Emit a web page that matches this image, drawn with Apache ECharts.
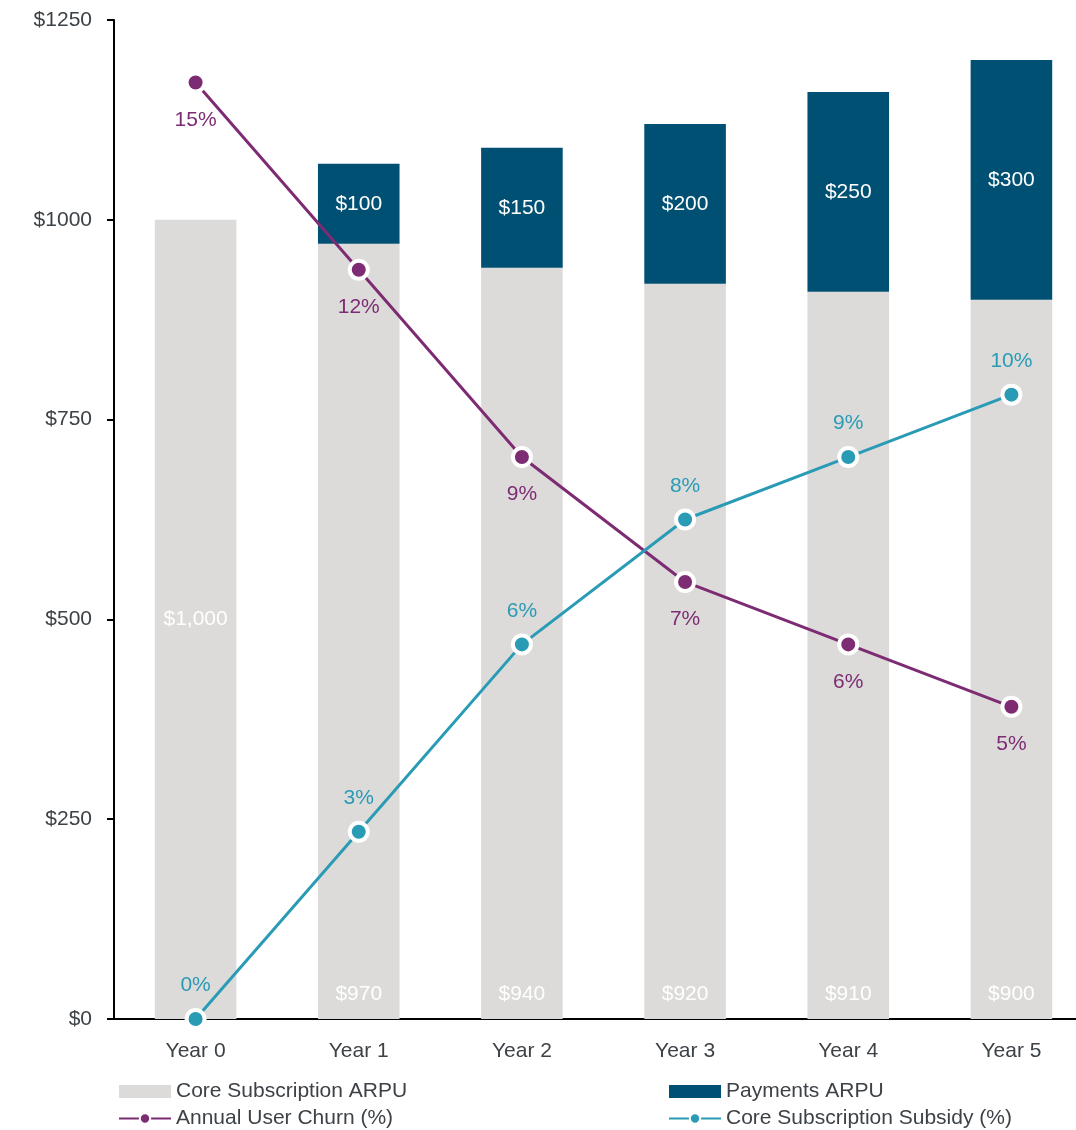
<!DOCTYPE html>
<html>
<head>
<meta charset="utf-8">
<script src="https://cdn.jsdelivr.net/npm/echarts@6/dist/echarts.min.js"></script>
<style>html,body{margin:0;padding:0;background:#fff}#c{width:1076px;height:1130px}</style>
</head>
<body>
<div id="c"></div>
<script>
const categories = ['Year 0', 'Year 1', 'Year 2', 'Year 3', 'Year 4', 'Year 5'];
const coreARPU = [1000, 970, 940, 920, 910, 900];
const paymentsARPU = [null, 100, 150, 200, 250, 300];
const churnPct = [15, 12, 9, 7, 6, 5];
const subsidyPct = [0, 3, 6, 8, 9, 10];
const yTicks = [0, 250, 500, 750, 1000, 1250];

const FONT = '"Liberation Sans", Arial, sans-serif';
const FS = 21;
const TXT = '#3d4247';
const C_CORE = '#dcdbda';
const C_PAY = '#005073';
const C_CHURN = '#7d2c73';
const C_SUB = '#2a9bb5';

const chart = echarts.init(document.getElementById('c'));
chart.setOption({
  animation: false,
  textStyle: { fontFamily: FONT },
  grid: { left: 114, top: 20, width: 979, bottom: 111, containLabel: false, outerBoundsMode: 'none' },
  legend: [
    {
      orient: 'vertical', left: 118, top: 1081, height: 120, padding: 0, itemWidth: 52, itemHeight: 13, itemGap: 6,
      textStyle: { color: TXT, fontSize: FS, fontFamily: FONT },
      data: [{ name: 'Core Subscription ARPU', icon: 'rect' }, 'Annual User Churn (%)']
    },
    {
      orient: 'vertical', left: 668, top: 1081, height: 120, padding: 0, itemWidth: 52, itemHeight: 13, itemGap: 6,
      textStyle: { color: TXT, fontSize: FS, fontFamily: FONT },
      data: [{ name: 'Payments ARPU', icon: 'rect' }, 'Core Subscription Subsidy (%)']
    }
  ],
  xAxis: {
    type: 'category', data: categories,
    axisLine: { lineStyle: { color: '#000', width: 2 } },
    axisTick: { show: false },
    axisLabel: { color: TXT, fontSize: FS, margin: 22, fontFamily: FONT }
  },
  yAxis: [
    {
      type: 'value', min: 0, max: 1250, interval: 250,
      axisLine: { show: true, lineStyle: { color: '#000', width: 2 } },
      axisTick: { show: true, length: 7, lineStyle: { color: '#000', width: 2 } },
      splitLine: { show: false },
      axisLabel: { color: TXT, fontSize: FS, margin: 22, fontFamily: FONT, formatter: v => '$' + v }
    },
    { type: 'value', min: 0, max: 16, show: false, splitLine: { show: false } }
  ],
  series: [
    {
      name: 'Core Subscription ARPU', type: 'bar', stack: 'arpu', barWidth: '50%',
      itemStyle: { color: C_CORE },
      label: {
        show: true, position: 'insideBottom', distance: 14, color: '#fff', fontSize: FS, fontFamily: FONT,
        formatter: p => '$' + p.value.toLocaleString('en-US')
      },
      data: coreARPU.map((v, i) => i === 0 ? { value: v, label: { position: 'inside' } } : v)
    },
    {
      name: 'Payments ARPU', type: 'bar', stack: 'arpu', barWidth: '50%',
      itemStyle: { color: C_PAY },
      label: { show: true, position: 'inside', color: '#fff', fontSize: FS, fontFamily: FONT, formatter: p => '$' + p.value },
      data: paymentsARPU.map(v => v === null ? '-' : v)
    },
    {
      name: 'Annual User Churn (%)', type: 'line', yAxisIndex: 1,
      symbol: 'circle', symbolSize: 18,
      lineStyle: { color: C_CHURN, width: 3 },
      itemStyle: { color: C_CHURN, borderColor: '#fff', borderWidth: 4 },
      label: { show: true, position: 'bottom', distance: 16, color: C_CHURN, fontSize: FS, fontFamily: FONT, formatter: '{c}%' },
      z: 5,
      data: churnPct
    },
    {
      name: 'Core Subscription Subsidy (%)', type: 'line', yAxisIndex: 1,
      symbol: 'circle', symbolSize: 18,
      lineStyle: { color: C_SUB, width: 3 },
      itemStyle: { color: C_SUB, borderColor: '#fff', borderWidth: 4 },
      label: { show: true, position: 'top', distance: 12, color: C_SUB, fontSize: FS, fontFamily: FONT, formatter: '{c}%' },
      z: 6,
      data: subsidyPct
    }
  ]
});
</script>
</body>
</html>
